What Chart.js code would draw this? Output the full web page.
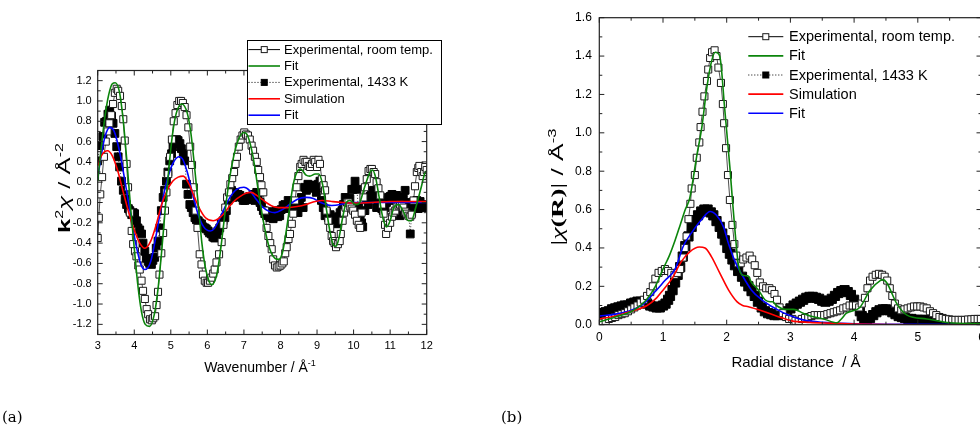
<!DOCTYPE html>
<html>
<head>
<meta charset="utf-8">
<script src="https://cdn.jsdelivr.net/npm/chart.js@4.4.0/dist/chart.umd.min.js"></script>
<style>
html, body { margin: 0; padding: 0; background: #fff; overflow: hidden; width: 980px; height: 427px; }
#caixaA { position: absolute; left: 0; top: 0; width: 490px; height: 427px; }
#caixaB { position: absolute; left: 500px; top: 0; width: 500px; height: 427px; }
.rotulo { position: absolute; top: 409px; font-family: "DejaVu Serif", "Liberation Serif", serif; font-size: 15px; line-height: 17px; }
</style>
</head>
<body>
<div id="caixaA"><canvas id="graficoA"></canvas></div>
<div id="caixaB"><canvas id="graficoB"></canvas></div>
<div class="rotulo" style="left:2px">(a)</div>
<div class="rotulo" style="left:501px">(b)</div>
<script>
// ---- painel (a): k^2 chi(k) ----
var ticksXA = [3, 4, 5, 6, 7, 8, 9, 10, 11, 12];
var ticksYA = [-1.2, -1.0, -0.8, -0.6, -0.4, -0.2, 0.0, 0.2, 0.4, 0.6, 0.8, 1.0, 1.2];

var expAmbienteA = [
    [3.00,-0.35],[3.03,-0.15],[3.07,0.08],[3.12,0.25],[3.17,0.45],[3.22,0.60],[3.27,0.70],[3.32,0.78],[3.37,0.86],[3.42,0.97],
    [3.47,1.08],[3.52,1.12],[3.56,1.10],[3.61,1.05],[3.66,0.95],[3.70,0.82],[3.74,0.61],[3.79,0.38],[3.83,0.15],[3.88,-0.10],
    [3.93,-0.28],[3.97,-0.41],[4.02,-0.48],[4.06,-0.53],[4.11,-0.62],[4.15,-0.66],[4.20,-0.77],[4.24,-0.87],[4.29,-0.95],[4.34,-1.05],
    [4.38,-1.10],[4.43,-1.15],[4.48,-1.16],[4.52,-1.14],[4.57,-1.12],[4.61,-1.01],[4.65,-0.88],[4.69,-0.71],[4.74,-0.50],[4.79,-0.30],
    [4.84,-0.08],[4.88,0.10],[4.93,0.28],[4.98,0.45],[5.03,0.62],[5.08,0.80],[5.13,0.88],[5.18,0.96],[5.23,1.00],[5.28,1.00],
    [5.33,0.98],[5.38,0.94],[5.43,0.86],[5.48,0.74],[5.53,0.55],[5.58,0.37],[5.63,0.15],[5.68,-0.08],[5.73,-0.25],[5.79,-0.51],
    [5.84,-0.61],[5.88,-0.71],[5.93,-0.77],[5.98,-0.79],[6.02,-0.79],[6.07,-0.77],[6.11,-0.74],[6.16,-0.70],[6.20,-0.66],[6.25,-0.59],
    [6.32,-0.51],[6.39,-0.39],[6.44,-0.22],[6.49,-0.05],[6.54,0.05],[6.59,0.10],[6.63,0.18],[6.68,0.24],[6.73,0.30],[6.77,0.38],
    [6.81,0.45],[6.86,0.55],[6.91,0.62],[6.96,0.66],[7.01,0.69],[7.06,0.67],[7.11,0.66],[7.16,0.62],[7.21,0.56],[7.25,0.51],
    [7.30,0.45],[7.35,0.40],[7.39,0.32],[7.44,0.25],[7.48,0.17],[7.53,0.10],[7.58,-0.08],[7.62,-0.25],[7.67,-0.33],[7.72,-0.40],
    [7.76,-0.46],[7.80,-0.56],[7.85,-0.62],[7.90,-0.64],[7.95,-0.63],[8.00,-0.62],[8.05,-0.60],[8.09,-0.58],[8.13,-0.50],[8.17,-0.44],
    [8.22,-0.36],[8.26,-0.31],[8.31,-0.21],[8.35,-0.11],[8.40,0.02],[8.44,0.15],[8.49,0.26],[8.54,0.35],[8.58,0.38],[8.63,0.42],
    [8.68,0.40],[8.72,0.40],[8.77,0.36],[8.81,0.35],[8.86,0.38],[8.91,0.42],[8.95,0.40],[9.00,0.35],[9.04,0.42],[9.08,0.38],
    [9.13,0.23],[9.18,0.17],[9.22,0.12],[9.26,-0.08],[9.31,-0.18],[9.36,-0.25],[9.40,-0.33],[9.44,-0.38],[9.48,-0.40],[9.52,-0.44],
    [9.57,-0.41],[9.62,-0.38],[9.65,-0.31],[9.70,-0.18],[9.74,-0.10],[9.78,-0.05],[9.82,0.00],[9.86,0.00],[9.91,-0.04],[9.95,-0.06],
    [9.99,-0.08],[10.04,-0.12],[10.09,-0.18],[10.14,-0.22],[10.18,-0.25],[10.22,-0.10],[10.27,0.05],[10.31,0.15],[10.36,0.23],[10.41,0.31],
    [10.46,0.33],[10.50,0.33],[10.55,0.30],[10.59,0.28],[10.63,0.20],[10.68,0.14],[10.73,0.07],[10.78,-0.02],[10.82,-0.11],[10.86,-0.22],
    [10.89,-0.31],[10.94,-0.25],[11.00,-0.20],[11.05,-0.14],[11.09,-0.10],[11.14,-0.08],[11.18,-0.04],[11.23,-0.03],[11.27,-0.02],[11.32,-0.03],
    [11.36,-0.05],[11.41,-0.09],[11.45,-0.11],[11.50,-0.13],[11.55,-0.14],[11.59,-0.12],[11.64,0.02],[11.68,0.16],[11.73,0.30],[11.77,0.34],
    [11.80,0.36],[11.85,0.30],[11.89,0.26],[11.93,0.30],[11.96,0.35],[12.00,0.32]
];

var ajusteAmbienteA = [
    [3.00,0.21],[3.10,0.55],[3.20,0.85],[3.30,1.06],[3.40,1.17],[3.48,1.18],[3.60,1.08],[3.70,0.80],[3.80,0.40],[3.90,-0.05],
    [4.00,-0.45],[4.10,-0.82],[4.20,-1.08],[4.30,-1.20],[4.42,-1.22],[4.55,-1.10],[4.65,-0.85],[4.75,-0.48],[4.85,-0.05],[4.95,0.35],
    [5.05,0.68],[5.15,0.88],[5.30,0.97],[5.45,0.88],[5.55,0.68],[5.65,0.35],[5.75,-0.02],[5.85,-0.40],[5.95,-0.65],[6.05,-0.78],
    [6.12,-0.81],[6.25,-0.72],[6.35,-0.50],[6.45,-0.20],[6.55,0.10],[6.70,0.42],[6.85,0.62],[7.00,0.69],[7.10,0.66],[7.25,0.45],
    [7.40,0.10],[7.55,-0.22],[7.70,-0.45],[7.85,-0.55],[7.95,-0.56],[8.05,-0.50],[8.15,-0.30],[8.25,-0.05],[8.35,0.18],[8.45,0.30],
    [8.55,0.33],[8.70,0.27],[8.80,0.26],[8.95,0.28],[9.05,0.28],[9.15,0.18],[9.25,-0.05],[9.35,-0.28],[9.45,-0.42],[9.52,-0.43],
    [9.60,-0.35],[9.70,-0.15],[9.80,0.00],[9.90,0.02],[10.05,-0.02],[10.15,-0.01],[10.30,0.15],[10.45,0.30],[10.52,0.32],[10.60,0.25],
    [10.70,0.05],[10.80,-0.15],[10.90,-0.24],[11.00,-0.18],[11.10,-0.05],[11.23,-0.02],[11.35,-0.08],[11.50,-0.18],[11.58,-0.18],[11.70,-0.05],
    [11.85,0.15],[11.96,0.30],[12.00,0.31]
];

var exp1433A = [
    [3.00,0.41],[3.05,0.56],[3.14,0.65],[3.19,0.79],[3.24,0.80],[3.28,0.87],[3.33,0.91],[3.38,0.85],[3.42,0.78],[3.47,0.68],
    [3.52,0.55],[3.56,0.45],[3.60,0.35],[3.65,0.21],[3.70,0.12],[3.75,0.03],[3.79,-0.02],[3.84,-0.06],[3.88,-0.08],[3.93,-0.12],
    [3.97,-0.10],[4.01,-0.11],[4.06,-0.18],[4.10,-0.25],[4.15,-0.27],[4.20,-0.31],[4.24,-0.40],[4.29,-0.48],[4.33,-0.55],[4.38,-0.58],
    [4.42,-0.60],[4.47,-0.61],[4.51,-0.57],[4.56,-0.54],[4.60,-0.45],[4.65,-0.38],[4.70,-0.25],[4.74,-0.08],[4.79,0.05],[4.83,0.12],
    [4.88,0.21],[4.92,0.30],[4.97,0.41],[5.02,0.48],[5.06,0.55],[5.11,0.58],[5.16,0.62],[5.20,0.61],[5.25,0.58],[5.29,0.53],
    [5.34,0.48],[5.38,0.41],[5.43,0.18],[5.47,0.08],[5.52,-0.02],[5.56,-0.05],[5.61,-0.10],[5.66,-0.15],[5.70,-0.17],[5.75,-0.18],
    [5.79,-0.20],[5.84,-0.21],[5.88,-0.24],[5.93,-0.25],[5.97,-0.26],[6.02,-0.28],[6.06,-0.30],[6.11,-0.31],[6.15,-0.34],[6.20,-0.35],
    [6.25,-0.32],[6.29,-0.28],[6.34,-0.25],[6.38,-0.21],[6.43,-0.18],[6.48,-0.15],[6.52,-0.08],[6.57,0.02],[6.61,0.08],[6.66,0.12],
    [6.70,0.05],[6.75,0.10],[6.80,0.06],[6.84,0.08],[6.89,0.07],[6.94,0.05],[6.98,0.02],[7.03,0.02],[7.07,0.03],[7.12,0.03],
    [7.16,0.06],[7.21,0.04],[7.25,0.08],[7.30,0.02],[7.35,0.10],[7.39,0.05],[7.44,0.00],[7.48,-0.04],[7.53,-0.08],[7.57,-0.11],
    [7.62,-0.13],[7.66,-0.09],[7.71,-0.15],[7.75,-0.12],[7.80,-0.16],[7.84,-0.10],[7.89,-0.08],[7.93,-0.14],[7.98,-0.13],[8.02,-0.07],
    [8.07,-0.03],[8.12,-0.02],[8.16,-0.06],[8.21,0.02],[8.25,-0.04],[8.30,0.00],[8.34,-0.06],[8.39,-0.09],[8.43,-0.05],[8.48,-0.10],
    [8.52,-0.02],[8.57,0.05],[8.62,-0.05],[8.66,0.15],[8.71,0.12],[8.75,0.18],[8.80,0.17],[8.85,0.14],[8.89,0.17],[8.94,0.15],
    [8.98,0.10],[9.03,0.18],[9.08,0.21],[9.12,0.02],[9.17,-0.05],[9.22,-0.13],[9.26,-0.10],[9.31,-0.15],[9.36,-0.12],[9.40,-0.18],
    [9.45,-0.16],[9.49,-0.20],[9.54,-0.21],[9.58,-0.14],[9.63,-0.10],[9.68,-0.08],[9.72,-0.02],[9.77,0.05],[9.81,-0.04],[9.86,0.00],
    [9.90,0.04],[9.95,0.13],[9.99,0.13],[10.04,0.21],[10.09,0.13],[10.13,-0.05],[10.18,-0.15],[10.22,-0.20],[10.25,-0.24],[10.31,-0.08],
    [10.36,0.03],[10.40,-0.02],[10.45,0.06],[10.49,0.10],[10.54,0.12],[10.58,0.04],[10.63,-0.05],[10.68,-0.03],[10.72,0.02],[10.77,-0.06],
    [10.81,-0.08],[10.86,-0.05],[10.90,0.00],[10.95,0.05],[11.00,0.06],[11.05,0.08],[11.09,0.02],[11.14,0.04],[11.18,0.07],[11.23,-0.05],
    [11.27,-0.13],[11.32,-0.02],[11.36,0.05],[11.41,0.12],[11.45,0.00],[11.50,-0.08],[11.55,-0.31],[11.59,-0.10],[11.64,0.00],[11.68,-0.03],
    [11.73,0.02],[11.77,-0.06],[11.82,0.01],[11.87,-0.02],[11.91,-0.05],[11.96,-0.03]
];

var simulacaoA = [
    [3.00,0.36],[3.10,0.46],[3.27,0.51],[3.40,0.46],[3.55,0.31],[3.70,0.10],[3.85,-0.10],[4.00,-0.27],[4.15,-0.40],[4.29,-0.45],
    [4.45,-0.38],[4.60,-0.22],[4.75,-0.02],[4.90,0.12],[5.05,0.21],[5.20,0.25],[5.34,0.26],[5.50,0.18],[5.65,0.05],[5.80,-0.07],
    [5.95,-0.15],[6.16,-0.18],[6.30,-0.16],[6.45,-0.11],[6.60,-0.04],[6.75,0.02],[6.90,0.06],[7.05,0.09],[7.20,0.10],[7.35,0.07],
    [7.50,0.03],[7.65,-0.01],[7.80,-0.04],[7.95,-0.05],[8.20,-0.05],[8.45,-0.04],[8.70,-0.02],[8.95,0.01],[9.15,0.02],[9.40,0.01],
    [9.70,0.00],[10.00,-0.005],[10.50,0.00],[11.00,0.01],[11.50,0.01],[12.00,0.01]
];

var ajuste1433A = [
    [3.00,0.24],[3.10,0.47],[3.20,0.65],[3.33,0.74],[3.45,0.70],[3.60,0.50],[3.75,0.20],[3.90,-0.12],[4.05,-0.42],[4.18,-0.61],
    [4.29,-0.66],[4.45,-0.58],[4.60,-0.32],[4.75,-0.02],[4.90,0.22],[5.05,0.38],[5.22,0.45],[5.32,0.43],[5.45,0.30],[5.60,0.08],
    [5.75,-0.12],[5.90,-0.24],[6.08,-0.28],[6.20,-0.25],[6.35,-0.15],[6.50,-0.03],[6.65,0.07],[6.80,0.13],[7.00,0.15],[7.15,0.12],
    [7.30,0.05],[7.50,-0.04],[7.70,-0.09],[7.85,-0.10],[8.05,-0.07],[8.25,-0.02],[8.45,0.03],[8.70,0.05],[8.90,0.04],[9.10,0.00],
    [9.40,-0.03],[9.65,-0.02],[9.90,0.00],[10.50,0.00],[11.00,0.00],[12.00,0.00]
];

// ---- painel (b): |chi(R)| ----
var ticksXB = [0, 1, 2, 3, 4, 5, 6];
var ticksYB = [0.0, 0.2, 0.4, 0.6, 0.8, 1.0, 1.2, 1.4, 1.6];

var expAmbienteB = [
    [0.00,0.00],[0.05,0.01],[0.10,0.02],[0.15,0.03],[0.20,0.035],[0.25,0.04],[0.30,0.05],[0.35,0.055],[0.40,0.06],[0.45,0.07],
    [0.50,0.08],[0.55,0.09],[0.60,0.10],[0.65,0.115],[0.70,0.13],[0.75,0.15],[0.80,0.17],[0.84,0.20],[0.88,0.24],[0.93,0.27],
    [0.98,0.28],[1.03,0.29],[1.08,0.28],[1.13,0.27],[1.18,0.26],[1.23,0.27],[1.27,0.29],[1.31,0.35],[1.34,0.40],[1.37,0.46],
    [1.40,0.55],[1.43,0.63],[1.45,0.71],[1.50,0.78],[1.53,0.87],[1.57,0.95],[1.59,1.03],[1.62,1.11],[1.65,1.19],[1.69,1.27],
    [1.71,1.33],[1.74,1.39],[1.77,1.42],[1.81,1.43],[1.84,1.40],[1.87,1.34],[1.91,1.26],[1.94,1.15],[1.96,1.05],[1.99,0.92],
    [2.02,0.78],[2.05,0.65],[2.09,0.52],[2.12,0.42],[2.15,0.36],[2.18,0.32],[2.22,0.32],[2.26,0.34],[2.31,0.35],[2.36,0.36],
    [2.40,0.34],[2.44,0.31],[2.48,0.27],[2.52,0.22],[2.57,0.20],[2.62,0.19],[2.67,0.19],[2.71,0.18],[2.75,0.16],[2.79,0.13],
    [2.83,0.09],[2.88,0.06],[2.93,0.04],[2.98,0.03],[3.03,0.03],[3.08,0.02],[3.13,0.02],[3.18,0.03],[3.23,0.035],[3.28,0.04],
    [3.33,0.045],[3.38,0.05],[3.43,0.05],[3.48,0.05],[3.53,0.05],[3.58,0.055],[3.63,0.06],[3.68,0.065],[3.73,0.07],[3.78,0.075],
    [3.83,0.085],[3.88,0.09],[3.93,0.10],[3.98,0.10],[4.03,0.10],[4.08,0.09],[4.12,0.11],[4.17,0.14],[4.21,0.19],[4.25,0.23],
    [4.29,0.25],[4.34,0.26],[4.39,0.265],[4.44,0.26],[4.48,0.25],[4.52,0.23],[4.56,0.19],[4.60,0.15],[4.64,0.11],[4.69,0.085],
    [4.74,0.075],[4.79,0.08],[4.84,0.085],[4.89,0.09],[4.94,0.095],[4.99,0.095],[5.04,0.095],[5.09,0.09],[5.14,0.085],[5.19,0.07],
    [5.24,0.06],[5.29,0.05],[5.34,0.04],[5.39,0.035],[5.44,0.03],[5.49,0.028],[5.54,0.025],[5.59,0.025],[5.64,0.025],[5.69,0.025],
    [5.74,0.025],[5.79,0.027],[5.84,0.028],[5.89,0.03],[5.94,0.03],[5.99,0.03]
];

var ajusteAmbienteB = [
    [0.00,0.015],[0.25,0.04],[0.51,0.07],[0.74,0.13],[0.88,0.20],[1.00,0.29],[1.10,0.36],[1.19,0.44],[1.27,0.52],[1.35,0.60],
    [1.42,0.66],[1.53,0.88],[1.61,1.03],[1.69,1.24],[1.76,1.37],[1.82,1.42],[1.89,1.40],[1.97,1.12],[2.05,0.82],[2.09,0.65],
    [2.13,0.49],[2.18,0.32],[2.24,0.26],[2.30,0.255],[2.33,0.255],[2.39,0.22],[2.50,0.18],[2.60,0.13],[2.68,0.12],[2.72,0.12],
    [2.78,0.10],[2.92,0.08],[3.05,0.08],[3.20,0.06],[3.31,0.045],[3.52,0.03],[3.73,0.01],[3.80,0.03],[3.88,0.06],[4.09,0.09],
    [4.25,0.18],[4.41,0.23],[4.45,0.235],[4.51,0.22],[4.67,0.11],[4.83,0.05],[5.14,0.03],[5.50,0.01],[6.00,0.005]
];

var exp1433B = [
    [0.00,0.06],[0.05,0.06],[0.10,0.065],[0.15,0.07],[0.20,0.08],[0.25,0.085],[0.30,0.09],[0.35,0.095],[0.40,0.10],[0.45,0.10],
    [0.50,0.11],[0.55,0.115],[0.60,0.12],[0.65,0.12],[0.70,0.115],[0.75,0.11],[0.80,0.10],[0.85,0.095],[0.90,0.09],[0.95,0.09],
    [1.00,0.10],[1.04,0.11],[1.08,0.13],[1.11,0.15],[1.15,0.18],[1.19,0.22],[1.23,0.26],[1.27,0.30],[1.31,0.355],[1.35,0.41],
    [1.40,0.46],[1.45,0.51],[1.50,0.545],[1.55,0.57],[1.60,0.59],[1.65,0.60],[1.70,0.60],[1.75,0.585],[1.79,0.57],[1.84,0.54],
    [1.89,0.51],[1.93,0.475],[1.97,0.44],[2.01,0.40],[2.05,0.37],[2.09,0.34],[2.13,0.31],[2.18,0.28],[2.24,0.25],[2.29,0.225],
    [2.34,0.20],[2.39,0.175],[2.44,0.15],[2.49,0.12],[2.55,0.09],[2.60,0.07],[2.65,0.06],[2.70,0.055],[2.75,0.05],[2.80,0.05],
    [2.85,0.055],[2.90,0.06],[2.95,0.07],[3.00,0.085],[3.05,0.10],[3.10,0.11],[3.15,0.12],[3.20,0.13],[3.25,0.14],[3.30,0.145],
    [3.35,0.145],[3.40,0.14],[3.45,0.135],[3.50,0.125],[3.55,0.12],[3.60,0.125],[3.65,0.135],[3.70,0.15],[3.75,0.165],[3.80,0.175],
    [3.85,0.18],[3.90,0.17],[3.95,0.155],[4.00,0.13],[4.05,0.10],[4.09,0.07],[4.12,0.045],[4.16,0.03],[4.20,0.025],[4.25,0.035],
    [4.30,0.05],[4.35,0.065],[4.40,0.075],[4.45,0.08],[4.50,0.08],[4.55,0.075],[4.60,0.065],[4.65,0.055],[4.70,0.045],[4.75,0.04],
    [4.80,0.035],[4.85,0.03],[4.90,0.03],[4.95,0.025],[5.00,0.025],[5.05,0.025],[5.10,0.025],[5.15,0.022],[5.20,0.02],[5.30,0.02],
    [5.40,0.018],[5.50,0.015],[5.60,0.012],[5.70,0.01],[5.80,0.01],[5.90,0.01],[6.00,0.01]
];

var simulacaoB = [
    [0.00,0.03],[0.25,0.045],[0.50,0.07],[0.75,0.10],[0.90,0.14],[1.00,0.18],[1.14,0.24],[1.29,0.33],[1.42,0.38],[1.57,0.405],
    [1.66,0.40],[1.76,0.355],[1.89,0.27],[2.03,0.18],[2.16,0.12],[2.25,0.10],[2.34,0.094],[2.55,0.073],[2.81,0.042],[3.02,0.02],
    [3.30,0.012],[3.60,0.008],[4.00,0.004],[4.50,0.001],[5.00,0.0],[6.00,0.0]
];

var ajuste1433B = [
    [0.00,0.045],[0.25,0.055],[0.50,0.075],[0.70,0.11],[0.87,0.17],[1.03,0.23],[1.19,0.29],[1.32,0.41],[1.45,0.48],[1.61,0.55],
    [1.74,0.59],[1.84,0.57],[1.95,0.51],[2.03,0.42],[2.13,0.33],[2.24,0.26],[2.39,0.18],[2.55,0.13],[2.76,0.085],[2.97,0.05],
    [3.20,0.025],[3.50,0.012],[4.00,0.005],[5.00,0.002],[6.00,0.0]
];

var FONTE = '"Liberation Sans", Arial, sans-serif';
var SERIFA = '"Liberation Serif", "DejaVu Serif", serif';

function pares(lista) {
    return lista.map(function (p) {
        return { x: p[0], y: p[1] };
    });
}

function meios(lista) {
    var saida = [];
    for (var i = 0; i < lista.length - 1; i++) {
        saida.push((lista[i] + lista[i + 1]) / 2);
    }
    return saida;
}

// texto com sobrescritos; girar = vertical, esticar = alongar no sentido do texto
function desenharRico(ctx, partes, x, y, girar, esticar) {
    ctx.save();
    ctx.translate(x, y);
    if (girar) ctx.rotate(-Math.PI / 2);
    if (esticar) ctx.scale(esticar, 1);
    var total = 0;
    partes.forEach(function (p) {
        ctx.font = p.f;
        total += ctx.measureText(p.t).width;
    });
    var cx = -total / 2;
    ctx.textBaseline = 'alphabetic';
    ctx.textAlign = 'left';
    ctx.fillStyle = '#000';
    partes.forEach(function (p) {
        ctx.font = p.f;
        ctx.fillText(p.t, cx, -(p.s || 0));
        cx += ctx.measureText(p.t).width;
    });
    ctx.restore();
}

// moldura, marcas internas, legenda e titulos
var molduraPlugin = {
    id: 'moldura',
    afterDraw: function (chart, args, o) {
        var ctx = chart.ctx, a = chart.chartArea;
        var sx = chart.scales.x, sy = chart.scales.y;
        ctx.save();
        ctx.strokeStyle = '#222';
        ctx.lineWidth = 1.2;
        ctx.strokeRect(a.left, a.top, a.right - a.left, a.bottom - a.top);
        ctx.beginPath();
        function marcasX(vals, len) {
            vals.forEach(function (v) {
                var p = sx.getPixelForValue(v);
                ctx.moveTo(p, a.bottom); ctx.lineTo(p, a.bottom - len);
                ctx.moveTo(p, a.top); ctx.lineTo(p, a.top + len);
            });
        }
        function marcasY(vals, len) {
            vals.forEach(function (v) {
                var p = sy.getPixelForValue(v);
                ctx.moveTo(a.left, p); ctx.lineTo(a.left + len, p);
                ctx.moveTo(a.right, p); ctx.lineTo(a.right - len, p);
            });
        }
        marcasX(o.xMaior, 5); marcasX(meios(o.xMaior), 3);
        marcasY(o.yMaior, 5); marcasY(meios(o.yMaior), 3);
        ctx.lineWidth = 1;
        ctx.stroke();

        // legenda
        var L = o.legenda;
        if (L.caixa) {
            ctx.fillStyle = '#fff';
            ctx.fillRect(L.caixa[0], L.caixa[1], L.caixa[2], L.caixa[3]);
            ctx.strokeStyle = '#000';
            ctx.lineWidth = 1;
            ctx.strokeRect(L.caixa[0], L.caixa[1], L.caixa[2], L.caixa[3]);
        }
        L.itens.forEach(function (idx, i) {
            var ds = chart.data.datasets[idx];
            var y = L.y0 + i * L.dy;
            ctx.beginPath();
            ctx.setLineDash(ds.borderDash || []);
            ctx.strokeStyle = ds.borderColor;
            ctx.lineWidth = ds.pointRadius ? 1 : 1.6;
            ctx.moveTo(L.x0, y); ctx.lineTo(L.x1, y);
            ctx.stroke();
            ctx.setLineDash([]);
            if (ds.pointRadius) {
                var m = L.marcador, xm = (L.x0 + L.x1) / 2;
                ctx.fillStyle = ds.pointBackgroundColor;
                ctx.fillRect(xm - m, y - m, 2 * m, 2 * m);
                ctx.strokeStyle = ds.pointBorderColor;
                ctx.strokeRect(xm - m, y - m, 2 * m, 2 * m);
            }
            ctx.fillStyle = '#000';
            ctx.font = L.fonte;
            ctx.textBaseline = 'middle';
            ctx.textAlign = 'left';
            ctx.fillText(ds.label, L.xTexto, y + 0.5);
        });
        ctx.restore();

        desenharRico(ctx, o.tituloX.partes, o.tituloX.x, o.tituloX.y, false);
        desenharRico(ctx, o.tituloY.partes, o.tituloY.x, o.tituloY.y, true, o.tituloY.esticar);
    }
};

function eixo(min, max, marcas, tamanho, fonte, pad, eY) {
    return {
        type: 'linear',
        min: min,
        max: max,
        afterBuildTicks: function (s) {
            s.ticks = marcas.map(function (v) { return { value: v }; });
        },
        afterFit: function (s) {
            if (eY) s.width = tamanho; else s.height = tamanho;
        },
        grid: { display: false, drawTicks: false },
        border: { display: false },
        ticks: {
            autoSkip: false,
            maxRotation: 0,
            padding: pad,
            color: '#000',
            font: { family: FONTE, size: fonte },
            callback: function (v) { return eY ? v.toFixed(1) : String(v); }
        }
    };
}

function linha(rotulo, dados, cor) {
    return {
        label: rotulo, data: pares(dados), borderColor: cor, borderWidth: 1.6,
        pointRadius: 0, cubicInterpolationMode: 'monotone', fill: false, order: 0, clip: 0
    };
}

function pontos(rotulo, dados, cheio, raio, ordem) {
    return {
        label: rotulo, data: pares(dados), borderColor: '#000', borderWidth: cheio ? 0.8 : 0.7,
        borderDash: cheio ? [1, 2] : [], tension: 0, pointStyle: 'rect', pointRadius: raio,
        pointBackgroundColor: cheio ? '#000' : '#fff', pointBorderColor: cheio ? '#000' : '#1a1a1a',
        pointBorderWidth: 1, fill: false, order: ordem, clip: 0
    };
}

function criarGrafico(id, conjuntos, padding, x, y, moldura) {
    return new Chart(document.getElementById(id).getContext('2d'), {
        type: 'line',
        data: { datasets: conjuntos },
        options: {
            responsive: true,
            maintainAspectRatio: false,
            animation: false,
            events: [],
            layout: { padding: padding },
            plugins: { legend: { display: false }, tooltip: { enabled: false }, moldura: moldura },
            scales: { x: x, y: y }
        },
        plugins: [molduraPlugin]
    });
}

var grafA = criarGrafico('graficoA', [
        pontos('Experimental, room temp.', expAmbienteA, false, 5, 1),
        linha('Fit', ajusteAmbienteA, '#0b850b'),
        pontos('Experimental, 1433 K', exp1433A, true, 5.5, 2),
        linha('Simulation', simulacaoA, '#ff0000'),
        linha('Fit', ajuste1433A, '#0000ff')
    ],
    { left: 0, top: 70.5, right: 63.3, bottom: 0 },
    eixo(3, 12, ticksXA, 92.5, 11, 5, false),
    eixo(-1.3, 1.3, ticksYA, 97.7, 11, 6, true),
    {
        xMaior: ticksXA, yMaior: ticksYA,
        legenda: { caixa: [247.5, 40.5, 194, 84], itens: [0, 1, 2, 3, 4], x0: 248.5, x1: 280, xTexto: 284,
            y0: 49.6, dy: 16.4, marcador: 3, fonte: '13px ' + FONTE },
        tituloX: { x: 260, y: 372, partes: [
            { t: 'Wavenumber / Å', f: '14px ' + FONTE },
            { t: '-1', f: '9px ' + FONTE, s: 6 }
        ] },
        tituloY: { x: 70, y: 188, esticar: 1.6, partes: [
            { t: 'k', f: 'bold 16px ' + FONTE },
            { t: '2', f: '10px ' + FONTE, s: 7 },
            { t: 'χ', f: 'italic 16px ' + FONTE },
            { t: ' / Å', f: '16px ' + FONTE },
            { t: '-2', f: '10px ' + FONTE, s: 7 }
        ] }
    });

var grafB = criarGrafico('graficoB', [
        pontos('Experimental, room temp.', expAmbienteB, false, 5, 1),
        linha('Fit', ajusteAmbienteB, '#0b850b'),
        pontos('Experimental, 1433 K', exp1433B, true, 6.5, 2),
        linha('Simulation', simulacaoB, '#ff0000'),
        linha('Fit', ajuste1433B, '#0000ff')
    ],
    { left: 0, top: 17.7, right: 18.5, bottom: 0 },
    eixo(0, 6, ticksXB, 102.3, 12, 6, false),
    eixo(0, 1.6, ticksYB, 99.3, 12, 7.5, true),
    {
        xMaior: ticksXB, yMaior: ticksYB,
        legenda: { caixa: null, itens: [0, 1, 2, 3, 4], x0: 248.3, x1: 283.3, xTexto: 289,
            y0: 36.7, dy: 19.15, marcador: 3, fonte: '14.5px ' + FONTE },
        tituloX: { x: 296, y: 367, partes: [
            { t: 'Radial distance  / Å', f: '15px ' + FONTE }
        ] },
        tituloY: { x: 63, y: 187, esticar: 1.65, partes: [
            { t: '|', f: '17px ' + SERIFA },
            { t: 'χ', f: 'italic 17px ' + SERIFA },
            { t: '(R)', f: 'bold 17px ' + SERIFA },
            { t: '|', f: '17px ' + SERIFA },
            { t: ' / Å', f: '16px ' + FONTE },
            { t: '-3', f: '10px ' + FONTE, s: 7 }
        ] }
    });
</script>
</body>
</html>
